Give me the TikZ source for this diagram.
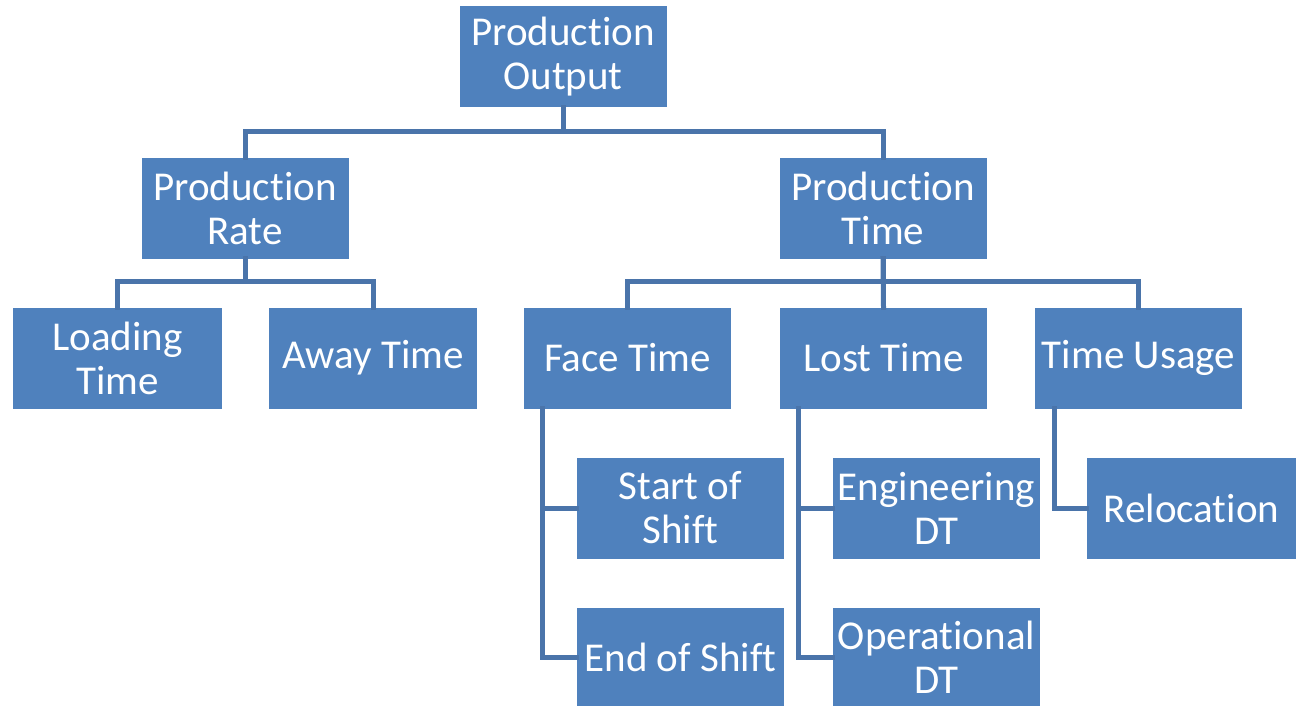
\documentclass[tikz,border=0pt]{standalone}
\usepackage{fontspec}
\setmainfont[Ligatures=NoCommon]{Carlito}
\usetikzlibrary{calc}
\definecolor{boxblue}{HTML}{4F81BD}
\definecolor{linkblue}{HTML}{4A74AA}
\begin{document}
\begin{tikzpicture}[x=1pt,y=-1pt,
  box/.style={fill=boxblue,draw=none,text=white,minimum width=207pt,minimum height=101pt,
    inner sep=0pt,align=center,font=\fontsize{41}{44}\selectfont},
  link/.style={draw=linkblue,line width=5pt,line cap=rect}]
\useasboundingbox (0,0) rectangle (1303,706);
% top level
\node[box] (out) at (563,57) {Production\\Output};
% second level
\node[box] (rate) at (245,208) {Production\\Rate};
\node[box] (ptime) at (883,208) {Production\\Time};
% third level
\node[box,minimum width=209pt] (load) at (117.5,358) {Loading\\Time};
\node[box,minimum width=208pt] (away) at (373,358) {Away Time};
\node[box] (face) at (627.5,358) {Face Time};
\node[box] (lost) at (883.5,358) {Lost Time};
\node[box] (usage) at (1138.5,358) {Time Usage};
% fourth level
\node[box] (start) at (680.5,508) {Start of\\Shift};
\node[box,minimum height=98pt] (endsh) at (680.5,657) {End of Shift};
\node[box] (eng) at (936.5,508) {Engineering\\DT};
\node[box,minimum height=98pt] (oper) at (936.5,657) {Operational\\DT};
\node[box,minimum width=209pt] (reloc) at (1191.5,508) {Relocation};
% connectors
\draw[link] (out.south) -- ++(0,24) -| (rate.north);
\draw[link] (out.south) -- ++(0,24) -| (ptime.north);
\draw[link] (rate.south) -- ++(0,23) -| (load.north);
\draw[link] (rate.south) -- ++(0,23) -| (away.north);
\draw[link] (ptime.south) -- ++(0,23) -| (face.north);
\draw[link] (ptime.south) -- (lost.north);
\draw[link] (ptime.south) -- ++(0,23) -| (usage.north);
\draw[link] ($(face.south west)+(19,0)$) |- (start.west);
\draw[link] ($(face.south west)+(19,0)$) |- (endsh.west);
\draw[link] ($(lost.south west)+(19,0)$) |- (eng.west);
\draw[link] ($(lost.south west)+(19,0)$) |- (oper.west);
\draw[link] ($(usage.south west)+(20,0)$) |- (reloc.west);
\end{tikzpicture}
\end{document}
